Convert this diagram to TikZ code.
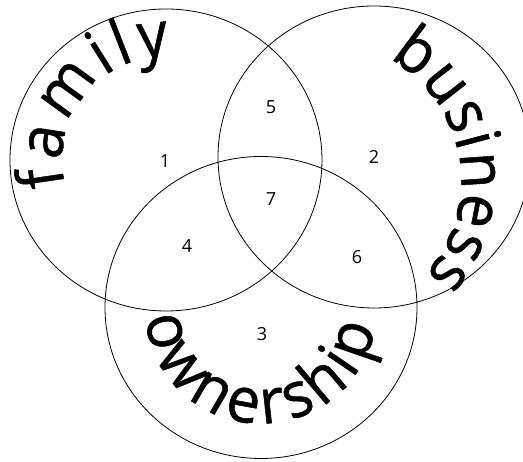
\documentclass[tikz,border=0pt]{standalone}
\usepackage{fontspec}
\setmainfont{Open Sans}
\newfontfamily\wordfamily{Open Sans}[FakeBold=0.8, FakeStretch=0.95]
\usetikzlibrary{decorations.text}
\newcommand\wordfont{\wordfamily\fontsize{63}{70}\selectfont}
\begin{document}
\begin{tikzpicture}[x=1pt,y=1pt,
  venn/.style={line width=0.8pt},
  num/.style={font=\fontsize{18}{20}\selectfont, inner sep=0pt},
  arcword/.style={decorate, decoration={text along path, text align={fit to path}, text={|\wordfont|#1}}}]
\useasboundingbox (0,0) rectangle (523,462);
\clip (0,0) rectangle (523,462);
% circles
\draw[venn] (166,302) ellipse [x radius=156, y radius=151];
\draw[venn] (374,305) ellipse [x radius=156, y radius=151];
\draw[venn] (261,154.5) ellipse [x radius=156, y radius=151];
% curved words
\path[arcword=family] ([shift={(194:104)}]166,302) arc[start angle=194, end angle=88, radius=104];
\path[arcword=business] ([shift={(61:140)}]321,281) arc[start angle=61, end angle=-42, radius=140];
\path[arcword=ownership] ([shift={(185:116)}]261,154.5) arc[start angle=185, end angle=350, radius=116];
% region numbers
\node[num] (n1) at (165,301) {1};
\node[num] (n2) at (374,305) {2};
\node[num] (n3) at (262,128) {3};
\node[num] (n4) at (187,216) {4};
\node[num] (n5) at (271,355) {5};
\node[num] (n6) at (357,205) {6};
\node[num] (n7) at (271,263) {7};
\end{tikzpicture}
\end{document}
